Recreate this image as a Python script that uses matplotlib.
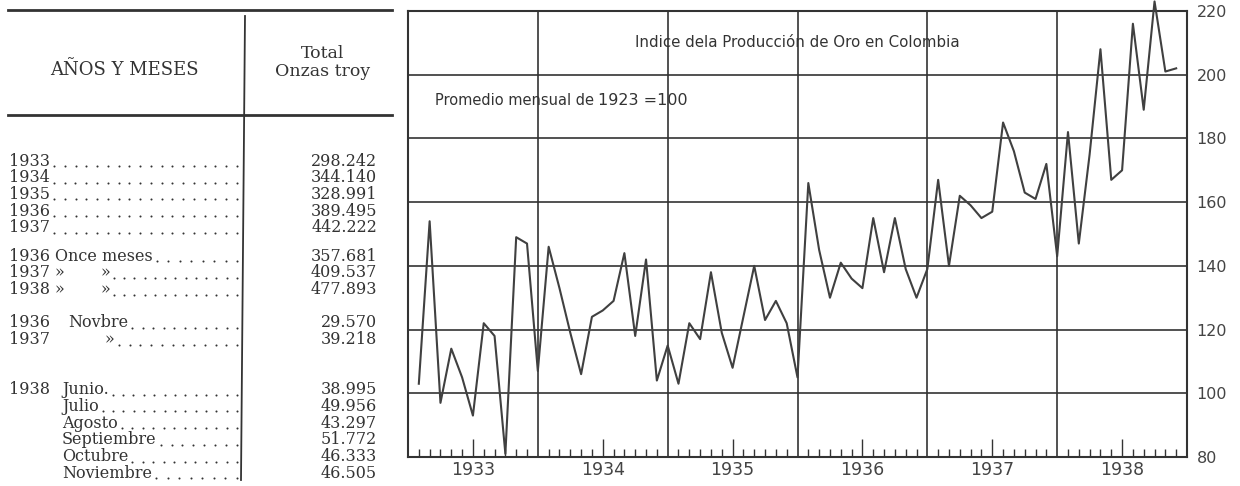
import numpy as np
from matplotlib.backends.backend_agg import FigureCanvasAgg as TelaFigura
from matplotlib.figure import Figure as Figura

# Tabla: Producción de oro (onzas troy)
anios_tabla = ['1933', '1934', '1935', '1936', '1937',
               '1936', '1937', '1938',
               '1936', '1937',
               '1938', '', '', '', '', '']
conceptos = ['', '', '', '', '',
             'Once meses', '»', '»',
             'Novbre', '»',
             'Junio.', 'Julio', 'Agosto', 'Septiembre', 'Octubre', 'Noviembre']
onzas = ['298.242', '344.140', '328.991', '389.495', '442.222',
         '357.681', '409.537', '477.893',
         '29.570', '39.218',
         '38.995', '49.956', '43.297', '51.772', '46.333', '46.505']

# Gráfico: índice mensual (1923 = 100), enero 1933 - noviembre 1938
años = ['1933', '1934', '1935', '1936', '1937', '1938']
índice = [
    103, 154, 97, 114, 105, 93, 122, 118, 81, 149, 147, 107,
    146, 133, 119, 106, 124, 126, 129, 144, 118, 142, 104, 115,
    103, 122, 117, 138, 119, 108, 124, 140, 123, 129, 122, 105,
    166, 145, 130, 141, 136, 133, 155, 138, 155, 139, 130, 139,
    167, 140, 162, 159, 155, 157, 185, 176, 163, 161, 172, 143,
    182, 147, 175, 208, 167, 170, 216, 189, 223, 201, 202,
]

gris = '#333333'
serif = 'DejaVu Serif'
sans = 'DejaVu Sans'

fig = Figura(figsize=(12.4, 4.86), dpi=100)
TelaFigura(fig)

# ---- tabla, en coordenadas de píxel ----
tab = fig.add_axes([0, 0, 1, 1])
tab.set_xlim(0, 1240)
tab.set_ylim(486, 0)
tab.axis('off')

tab.plot([8, 392], [10, 10], color=gris, lw=2)
tab.plot([8, 392], [115, 115], color=gris, lw=2)
tab.plot([245, 241], [16, 480], color=gris, lw=1.3)

tab.text(124, 70, 'AÑOS Y MESES', ha='center', va='center', fontsize=13, family=serif, color=gris)
tab.text(323, 53, 'Total', ha='center', va='center', fontsize=12.5, family=serif, color=gris)
tab.text(323, 72, 'Onzas troy', ha='center', va='center', fontsize=12.5, family=serif, color=gris)

# posiciones de las filas (saltos entre grupos)
paso = 16.7
saltos = [0, 1, 1, 1, 1, 1.7, 1, 1, 2, 1, 3, 1, 1, 1, 1, 1]
filas_y = 161 + paso * np.cumsum(saltos)
x_concepto = [0, 0, 0, 0, 0, 55, 55, 55, 68, 105, 62, 62, 62, 62, 62, 62]

renderer = fig.canvas.get_renderer()
for i, y in enumerate(filas_y):
    kw = dict(va='center', fontsize=11.5, family=serif, color=gris)
    últimos = []
    if anios_tabla[i]:
        últimos.append(tab.text(9, y, anios_tabla[i], ha='left', **kw))
    if conceptos[i]:
        últimos.append(tab.text(x_concepto[i], y, conceptos[i], ha='left', **kw))
        if conceptos[i] == '»' and i in (6, 7):
            últimos.append(tab.text(100, y, '»', ha='left', **kw))
    tab.text(377, y, onzas[i], ha='right', **kw)
    # puntos de guía desde el texto hasta la línea
    fin = max(t.get_window_extent(renderer).x1 for t in últimos) + 4
    n = int((237 - fin) // 10.2) + 1
    xs = np.linspace(fin, 237, n)
    tab.scatter(xs, np.full(n, y + 5), s=2.2, color=gris, lw=0)

# ---- gráfico ----
ax = fig.add_axes([408 / 1240, 1 - 457 / 486, (1187 - 408) / 1240, (457 - 11) / 486])
ax.set_xlim(0, 72)
ax.set_ylim(80, 220)

for v in range(100, 220, 20):
    ax.axhline(v, color=gris, lw=1.2, zorder=1)
for m in range(12, 72, 12):
    ax.axvline(m, color=gris, lw=1.2, zorder=1)

meses = np.arange(1, len(índice) + 1)
ax.plot(meses, índice, color='#404040', lw=1.5, clip_on=False, zorder=3)

ax.set_yticks(range(80, 221, 20))
ax.yaxis.tick_right()
ax.tick_params(axis='y', length=0, pad=7, labelsize=11.5, labelcolor='#444444')

ax.set_xticks(np.arange(6, 72, 12))
ax.set_xticklabels(años)
ax.set_xticks([m for m in range(1, 72) if m % 6 != 0], minor=True)
ax.tick_params(axis='x', which='major', direction='in', length=13, width=1, pad=3,
               labelsize=12.5, labelcolor='#444444', color=gris)
ax.tick_params(axis='x', which='minor', direction='in', length=6, width=1, color=gris)
for etiqueta in ax.get_xticklabels() + ax.get_yticklabels():
    etiqueta.set_family(sans)

for lado in ax.spines.values():
    lado.set_color(gris)
    lado.set_linewidth(1.5)

ax.text(36, 210, 'Indice dela Producción de Oro en Colombia', ha='center', va='center',
        fontsize=10.8, family=sans, color=gris)
ax.text(2.5, 192, 'Promedio mensual de', ha='left', va='center',
        fontsize=10.5, family=sans, color=gris)
ax.text(17.6, 192, '1923 =100', ha='left', va='center',
        fontsize=11.5, family=sans, color=gris)

fig.savefig('out.png', dpi=100)
